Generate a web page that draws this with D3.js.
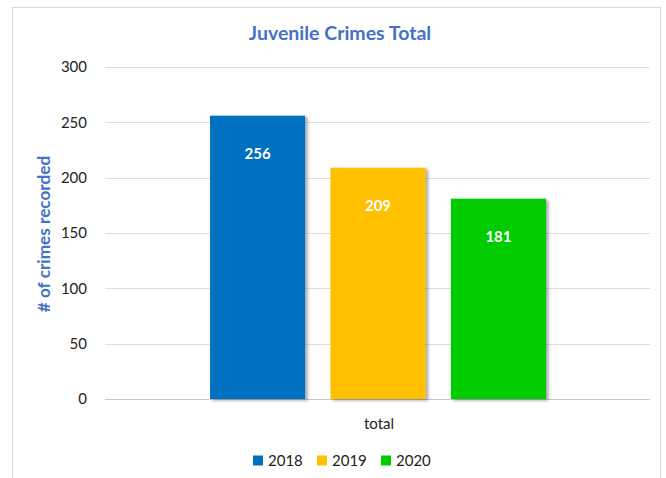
<!DOCTYPE html>
<html>
<head>
<meta charset="utf-8">
<script src="https://cdn.jsdelivr.net/npm/d3@7"></script>
<style>
  body { margin: 0; background: #fff; }
  svg { display: block; font-family: Lato, "Open Sans", sans-serif; }
</style>
</head>
<body>
<div id="chart"></div>
<script>
var years = ['2018', '2019', '2020'];
var totals = [256, 209, 181];
var yTicks = [0, 50, 100, 150, 200, 250, 300];
var colors = ['#0070C0', '#FFC000', '#00CC00'];
var category = 'total';

var width = 666, height = 478;

var svg = d3.select('#chart').append('svg')
	.attr('width', width)
	.attr('height', height);

var defs = svg.append('defs');
var shadow = defs.append('filter')
	.attr('id', 'shadow')
	.attr('x', '-10%').attr('y', '-10%')
	.attr('width', '130%').attr('height', '130%');
shadow.append('feDropShadow')
	.attr('dx', 2.5).attr('dy', 1.5)
	.attr('stdDeviation', 1.5)
	.attr('flood-color', '#000')
	.attr('flood-opacity', 0.35);

// chart frame
svg.append('rect')
	.attr('x', 12.5).attr('y', 7.5)
	.attr('width', 648).attr('height', 490)
	.attr('fill', '#fff')
	.attr('stroke', '#d9d9d9');

var xScale = d3.scaleBand()
	.domain(years)
	.range([210, 546])
	.paddingInner(0.21)
	.paddingOuter(0);

var yScale = d3.scaleLinear()
	.domain([0, 300])
	.range([399, 67]);

// gridlines
svg.append('g')
	.selectAll('line')
	.data(yTicks)
	.enter()
	.append('line')
	.attr('x1', 105)
	.attr('x2', 650)
	.attr('y1', function(d) { return Math.round(yScale(d)) + 0.5; })
	.attr('y2', function(d) { return Math.round(yScale(d)) + 0.5; })
	.attr('stroke', function(d) { return d === 0 ? '#c8c8c8' : '#dedede'; })
	.attr('stroke-width', 1);

var yAxis = d3.axisLeft(yScale)
	.tickValues(yTicks)
	.tickSize(0)
	.tickPadding(0);

var yAxisG = svg.append('g')
	.attr('transform', 'translate(87,0)')
	.call(yAxis);
yAxisG.select('.domain').remove();
yAxisG.selectAll('text')
	.attr('font-size', 15)
	.attr('fill', '#222')
	.attr('font-family', 'Lato, sans-serif');

// bars
svg.append('g')
	.selectAll('rect')
	.data(totals)
	.enter()
	.append('rect')
	.attr('x', function(d, i) { return xScale(years[i]); })
	.attr('y', function(d) { return yScale(d); })
	.attr('width', xScale.bandwidth())
	.attr('height', function(d) { return yScale(0) - yScale(d); })
	.attr('fill', function(d, i) { return colors[i]; })
	.attr('filter', 'url(#shadow)');

// value labels
svg.append('g')
	.selectAll('text')
	.data(totals)
	.enter()
	.append('text')
	.attr('x', function(d, i) { return xScale(years[i]) + xScale.bandwidth() / 2; })
	.attr('y', function(d) { return yScale(d) + 38; })
	.attr('dy', '0.35em')
	.attr('text-anchor', 'middle')
	.attr('font-size', 15)
	.attr('font-weight', 'bold')
	.attr('fill', '#fff')
	.text(function(d) { return d; });

// title
svg.append('text')
	.attr('x', 340)
	.attr('y', 33)
	.attr('dy', '0.35em')
	.attr('text-anchor', 'middle')
	.attr('font-size', 19.5)
	.attr('font-weight', 'bold')
	.attr('fill', '#4472C4')
	.text('Juvenile Crimes Total');

// y axis title
svg.append('text')
	.attr('transform', 'translate(44,234) rotate(-90)')
	.attr('dy', '0.35em')
	.attr('text-anchor', 'middle')
	.attr('font-size', 17.2)
	.attr('font-weight', 'bold')
	.attr('fill', '#4472C4')
	.text('# of crimes recorded');

// category label
svg.append('text')
	.attr('x', 379)
	.attr('y', 424)
	.attr('dy', '0.35em')
	.attr('text-anchor', 'middle')
	.attr('font-size', 15)
	.attr('fill', '#222')
	.text(category);

// legend
var legend = svg.append('g')
	.selectAll('g')
	.data(years)
	.enter()
	.append('g')
	.attr('transform', function(d, i) { return 'translate(' + (253 + i * 64) + ',461)'; });

legend.append('rect')
	.attr('x', 0).attr('y', -5.5)
	.attr('width', 10).attr('height', 10)
	.attr('fill', function(d, i) { return colors[i]; });

legend.append('text')
	.attr('x', 15)
	.attr('dy', '0.35em')
	.attr('font-size', 15)
	.attr('fill', '#222')
	.text(function(d) { return d; });
</script>
</body>
</html>
